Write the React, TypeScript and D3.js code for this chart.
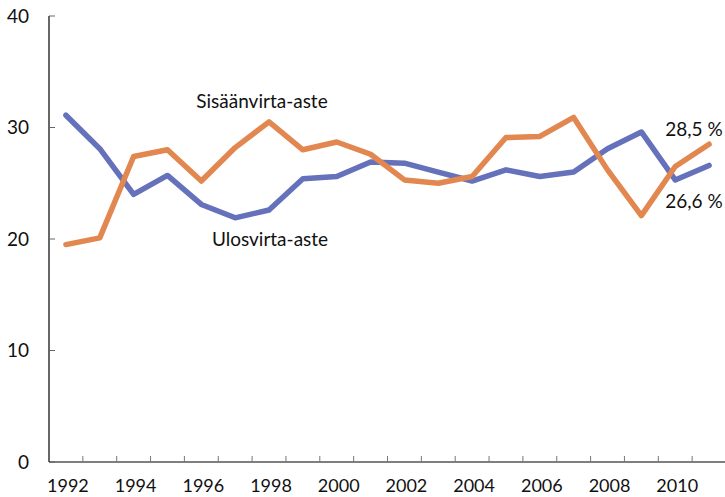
import { useEffect, useRef } from 'react';
import * as d3 from 'd3';

const years = [
  1992, 1993, 1994, 1995, 1996, 1997, 1998, 1999, 2000, 2001,
  2002, 2003, 2004, 2005, 2006, 2007, 2008, 2009, 2010, 2011,
];
const sisaan = [
  19.5, 20.1, 27.4, 28.0, 25.2, 28.2, 30.5, 28.0, 28.7, 27.6,
  25.3, 25.0, 25.6, 29.1, 29.2, 30.9, 26.2, 22.1, 26.5, 28.5,
];
const ulos = [
  31.1, 28.1, 24.0, 25.7, 23.1, 21.9, 22.6, 25.4, 25.6, 26.9,
  26.8, 26.0, 25.2, 26.2, 25.6, 26.0, 28.1, 29.6, 25.3, 26.6,
];
const yTicks = [0, 10, 20, 30, 40];
const xLabelYears = [1992, 1994, 1996, 1998, 2000, 2002, 2004, 2006, 2008, 2010];

const W = 725;
const H = 497;
const FONT = 'Lato, "Open Sans", sans-serif';

export default function App() {
  const svgRef = useRef<SVGSVGElement>(null);

  useEffect(() => {
    document.body.style.margin = '0';
    const svg = d3.select(svgRef.current);
    svg.selectAll('*').remove();

    const left = 49;
    const right = 726;
    const top = 16;
    const bottom = 462;

    const x = d3
      .scaleBand<number>()
      .domain(years)
      .range([left, right])
      .padding(0);
    const cx = (yr: number) => (x(yr) as number) + x.bandwidth() / 2;

    const y = d3.scaleLinear().domain([0, 40]).range([bottom, top]);

    // axes lines
    svg
      .append('line')
      .attr('x1', left)
      .attr('x2', left)
      .attr('y1', top)
      .attr('y2', bottom)
      .attr('stroke', '#000')
      .attr('stroke-width', 1.2);
    svg
      .append('line')
      .attr('x1', left)
      .attr('x2', right)
      .attr('y1', bottom)
      .attr('y2', bottom)
      .attr('stroke', '#000')
      .attr('stroke-width', 1.2);

    // y ticks (inward) + labels
    yTicks.forEach((t) => {
      svg
        .append('line')
        .attr('x1', left)
        .attr('x2', left + 6)
        .attr('y1', y(t))
        .attr('y2', y(t))
        .attr('stroke', '#666')
        .attr('stroke-width', 1);
      svg
        .append('text')
        .attr('x', 29)
        .attr('y', y(t))
        .attr('dy', '0.36em')
        .attr('text-anchor', 'end')
        .style('font-family', FONT)
        .style('font-size', '19px')
        .style('fill', '#111')
        .text(t);
    });

    // x ticks at band boundaries
    years.slice(1).forEach((yr) => {
      const xx = x(yr) as number;
      svg
        .append('line')
        .attr('x1', xx)
        .attr('x2', xx)
        .attr('y1', bottom)
        .attr('y2', bottom - 6)
        .attr('stroke', '#777')
        .attr('stroke-width', 1);
    });

    xLabelYears.forEach((yr) => {
      svg
        .append('text')
        .attr('x', cx(yr) + 2)
        .attr('y', 492)
        .attr('text-anchor', 'middle')
        .style('font-family', FONT)
        .style('font-size', '18px')
        .style('fill', '#111')
        .text(yr);
    });

    const line = d3
      .line<number>()
      .x((_, i) => cx(years[i]))
      .y((d) => y(d));

    svg
      .append('path')
      .datum(ulos)
      .attr('d', line)
      .attr('fill', 'none')
      .attr('stroke', '#6572BB')
      .attr('stroke-width', 5.5)
      .attr('stroke-linejoin', 'round')
      .attr('stroke-linecap', 'round');

    svg
      .append('path')
      .datum(sisaan)
      .attr('d', line)
      .attr('fill', 'none')
      .attr('stroke', '#E2874F')
      .attr('stroke-width', 5.5)
      .attr('stroke-linejoin', 'round')
      .attr('stroke-linecap', 'round');

    const labels = [
      { t: 'Sisäänvirta-aste', x: 262, y: 108 },
      { t: 'Ulosvirta-aste', x: 270, y: 246 },
      { t: '28,5 %', x: 694, y: 136 },
      { t: '26,6 %', x: 694, y: 208 },
    ];
    labels.forEach((l) => {
      svg
        .append('text')
        .attr('x', l.x)
        .attr('y', l.y)
        .attr('text-anchor', 'middle')
        .style('font-family', FONT)
        .style('font-size', '19px')
        .style('fill', '#111')
        .text(l.t);
    });
  }, []);

  return (
    <svg
      ref={svgRef}
      width={W}
      height={H}
      style={{ position: 'absolute', left: 0, top: 0, background: '#fff' }}
    />
  );
}
